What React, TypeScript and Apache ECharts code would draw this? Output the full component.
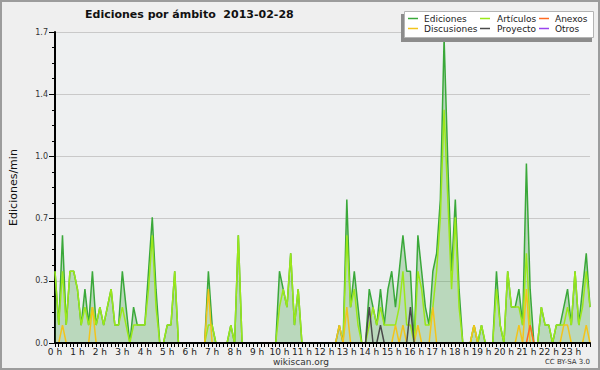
import React, { useEffect, useRef } from "react";
import * as echarts from "echarts";

// Hour tick labels (data every 10 minutes)
const HOURS = [
  "0 h", "1 h", "2 h", "3 h", "4 h", "5 h", "6 h", "7 h", "8 h", "9 h", "10 h", "11 h",
  "12 h", "13 h", "14 h", "15 h", "16 h", "17 h", "18 h", "19 h", "20 h", "21 h", "22 h", "23 h",
];
const MINUTES = ["00", "10", "20", "30", "40", "50"];
const Y_TICKS = 5;
const Y_MAX = 1.7333333;

// Ediciones/min per 10-minute slot
const EDICIONES = [
  0.4, 0.1, 0.6, 0.1, 0.4, 0.4, 0.3, 0.1, 0.3, 0.1, 0.4, 0.1,
  0.2, 0.1, 0.2, 0.3, 0.1, 0.1, 0.4, 0.2, 0, 0.2, 0.1, 0.1,
  0.1, 0.4, 0.7, 0.3, 0, 0, 0.1, 0.1, 0.4, 0, 0, 0,
  0, 0, 0, 0, 0, 0.4, 0.1, 0, 0, 0, 0, 0.1,
  0, 0.6, 0, 0, 0, 0, 0, 0, 0, 0, 0, 0,
  0.4, 0.3, 0.2, 0.5, 0.1, 0.3, 0, 0, 0, 0, 0, 0,
  0, 0, 0, 0, 0.1, 0, 0.8, 0.2, 0.4, 0.2, 0, 0,
  0.3, 0.2, 0.1, 0.3, 0.1, 0.3, 0.4, 0.2, 0.4, 0.6, 0.4, 0.4,
  0, 0.6, 0.4, 0.2, 0.1, 0.4, 0.5, 0.8, 1.7, 1.0, 0.4, 0.8,
  0.3, 0, 0, 0, 0.1, 0, 0.1, 0, 0, 0, 0.4, 0.1,
  0, 0.4, 0.2, 0.2, 0.3, 0.1, 1.0, 0.3, 0, 0, 0.2, 0.1,
  0.1, 0, 0.1, 0.1, 0.2, 0.3, 0.1, 0.4, 0.1, 0.3, 0.5, 0.2,
];
const ARTICULOS = [
  0.4, 0.1, 0.4, 0.1, 0.4, 0.4, 0.3, 0.1, 0.2, 0.1, 0.2, 0.1,
  0.2, 0.1, 0.2, 0.3, 0.1, 0.1, 0.2, 0.1, 0, 0.1, 0.1, 0.1,
  0.1, 0.3, 0.6, 0.2, 0, 0, 0.1, 0.1, 0.4, 0, 0, 0,
  0, 0, 0, 0, 0, 0.1, 0.1, 0, 0, 0, 0, 0.1,
  0, 0.6, 0, 0, 0, 0, 0, 0, 0, 0, 0, 0,
  0.2, 0.3, 0.2, 0.5, 0.1, 0.3, 0, 0, 0, 0, 0, 0,
  0, 0, 0, 0, 0, 0, 0.6, 0.2, 0.3, 0.1, 0, 0,
  0.1, 0.2, 0.1, 0.2, 0.1, 0.1, 0.1, 0.1, 0.2, 0.4, 0.1, 0.1,
  0, 0.4, 0.3, 0.1, 0.1, 0.2, 0.4, 0.7, 1.3, 0.8, 0.3, 0.7,
  0.2, 0, 0, 0, 0.1, 0, 0.1, 0, 0, 0, 0.3, 0.1,
  0, 0.4, 0.2, 0.2, 0.2, 0.1, 0.5, 0.1, 0, 0, 0.2, 0.1,
  0.1, 0, 0.1, 0.1, 0.1, 0.2, 0.1, 0.4, 0.1, 0.2, 0.4, 0.2,
];
const DISCUSIONES = [
  0, 0, 0.1, 0, 0, 0, 0, 0, 0, 0, 0.2, 0,
  0, 0, 0, 0, 0, 0, 0, 0, 0, 0, 0, 0,
  0, 0, 0, 0, 0, 0, 0, 0, 0, 0, 0, 0,
  0, 0, 0, 0, 0, 0.3, 0, 0, 0, 0, 0, 0,
  0, 0, 0, 0, 0, 0, 0, 0, 0, 0, 0, 0,
  0, 0, 0, 0, 0, 0, 0, 0, 0, 0, 0, 0,
  0, 0, 0, 0, 0.1, 0, 0.2, 0, 0, 0, 0, 0,
  0, 0, 0, 0, 0, 0, 0, 0.1, 0, 0.1, 0, 0,
  0, 0.1, 0, 0, 0, 0.2, 0, 0, 0, 0, 0, 0,
  0, 0, 0, 0, 0.1, 0, 0, 0, 0, 0, 0, 0,
  0, 0, 0, 0, 0.1, 0, 0.3, 0, 0, 0, 0, 0,
  0, 0, 0, 0, 0.1, 0.1, 0, 0, 0, 0, 0.1, 0,
];
const ANEXOS = [
  0, 0, 0, 0, 0, 0, 0, 0, 0, 0, 0, 0,
  0, 0, 0, 0, 0, 0, 0, 0, 0, 0, 0, 0,
  0, 0, 0, 0, 0, 0, 0, 0, 0, 0, 0, 0,
  0, 0, 0, 0, 0, 0, 0, 0, 0, 0, 0, 0,
  0, 0, 0, 0, 0, 0, 0, 0, 0, 0, 0, 0,
  0, 0, 0, 0, 0, 0, 0, 0, 0, 0, 0, 0,
  0, 0, 0, 0, 0, 0, 0, 0, 0, 0, 0, 0,
  0, 0, 0, 0, 0, 0, 0, 0, 0, 0, 0, 0,
  0, 0, 0, 0, 0, 0, 0, 0, 0, 0, 0, 0,
  0, 0, 0, 0, 0, 0, 0, 0, 0, 0, 0, 0,
  0, 0, 0, 0, 0, 0, 0, 0.1, 0, 0, 0, 0,
  0, 0, 0, 0, 0, 0, 0, 0, 0, 0, 0, 0,
];
const PROYECTO = [
  0, 0, 0, 0, 0, 0, 0, 0, 0, 0, 0, 0,
  0, 0, 0, 0, 0, 0, 0, 0, 0, 0, 0, 0,
  0, 0, 0, 0, 0, 0, 0, 0, 0, 0, 0, 0,
  0, 0, 0, 0, 0, 0, 0, 0, 0, 0, 0, 0,
  0, 0, 0, 0, 0, 0, 0, 0, 0, 0, 0, 0,
  0, 0, 0, 0, 0, 0, 0, 0, 0, 0, 0, 0,
  0, 0, 0, 0, 0, 0, 0, 0, 0, 0, 0, 0,
  0.2, 0, 0, 0.1, 0, 0, 0, 0, 0, 0, 0, 0.2,
  0, 0, 0, 0, 0, 0, 0, 0, 0, 0, 0, 0,
  0, 0, 0, 0, 0, 0, 0, 0, 0, 0, 0, 0,
  0, 0, 0, 0, 0, 0, 0, 0, 0, 0, 0, 0,
  0, 0, 0, 0, 0, 0, 0, 0, 0, 0, 0, 0,
];
const OTROS = [
  0, 0, 0, 0, 0, 0, 0, 0, 0, 0, 0, 0,
  0, 0, 0, 0, 0, 0, 0, 0, 0, 0, 0, 0,
  0, 0, 0, 0, 0, 0, 0, 0, 0, 0, 0, 0,
  0, 0, 0, 0, 0, 0, 0, 0, 0, 0, 0, 0,
  0, 0, 0, 0, 0, 0, 0, 0, 0, 0, 0, 0,
  0, 0, 0, 0, 0, 0, 0, 0, 0, 0, 0, 0,
  0, 0, 0, 0, 0, 0, 0, 0, 0, 0, 0, 0,
  0, 0, 0, 0, 0, 0, 0, 0, 0, 0, 0, 0,
  0, 0, 0, 0, 0, 0, 0, 0, 0, 0, 0, 0,
  0, 0, 0, 0, 0, 0, 0, 0, 0, 0, 0, 0,
  0, 0, 0, 0, 0, 0, 0, 0, 0, 0, 0, 0,
  0, 0, 0, 0, 0, 0, 0, 0, 0, 0, 0, 0,
];

const FONT = '"DejaVu Sans", sans-serif';
const COLORS = {
  ediciones: "#3aa83a",
  articulos: "#9be81a",
  discusiones: "#f2c41c",
  anexos: "#ff6a22",
  proyecto: "#4a4a4a",
  otros: "#9a44ee",
};

const LEGEND = [
  { name: "Ediciones", color: COLORS.ediciones, col: 0, row: 0 },
  { name: "Discusiones", color: COLORS.discusiones, col: 0, row: 1 },
  { name: "Artículos", color: COLORS.articulos, col: 1, row: 0 },
  { name: "Proyecto", color: COLORS.proyecto, col: 1, row: 1 },
  { name: "Anexos", color: COLORS.anexos, col: 2, row: 0 },
  { name: "Otros", color: COLORS.otros, col: 2, row: 1 },
];

export default function App() {
  const ref = useRef<HTMLDivElement>(null);
  useEffect(() => {
    if (!ref.current) return;
    const chart = echarts.init(ref.current, null, { renderer: "svg" });
    const categories: string[] = [];
    HOURS.forEach((h, i) => MINUTES.forEach((m) => categories.push(m === "00" ? h : `${i}:${m}`)));

    const lineSeries = (name: string, data: number[], color: string, extra: any = {}) => ({
      name,
      type: "line",
      data,
      symbol: "none",
      silent: true,
      lineStyle: { color, width: 1.5 },
      itemStyle: { color },
      ...extra,
    });

    const colX = [408, 480, 539];
    const textX = [424, 497, 555];
    const rowY = [18.5, 28.5];
    const legendGraphics: any[] = [
      { type: "rect", z: 100, shape: { x: 401, y: 14, width: 191, height: 28 }, style: { fill: "#8c8c8c" } },
      { type: "rect", z: 101, shape: { x: 404.5, y: 11.5, width: 189, height: 26 }, style: { fill: "#ffffff", stroke: "#b4b4b4", lineWidth: 1 } },
    ];
    LEGEND.forEach((l) => {
      legendGraphics.push({
        type: "line", z: 102,
        shape: { x1: colX[l.col], y1: rowY[l.row], x2: colX[l.col] + 10, y2: rowY[l.row] },
        style: { stroke: l.color, lineWidth: 1.5 },
      });
      legendGraphics.push({
        type: "text", z: 102, x: textX[l.col], y: rowY[l.row] + 0.5,
        style: { text: l.name, fill: "#222", fontSize: 9, fontFamily: FONT, verticalAlign: "middle", align: "left" },
      });
    });

    chart.setOption({
      animation: false,
      backgroundColor: "#efefef",
      grid: { left: 46, right: 10, top: 32, bottom: 27, show: true, backgroundColor: "#eef0f1", borderWidth: 0 },
      xAxis: {
        type: "category",
        data: categories,
        boundaryGap: false,
        z: 5,
        axisLine: { show: true, lineStyle: { color: "#000", width: 2 } },
        axisTick: { show: true, interval: 0, length: 4, lineStyle: { color: "#000", width: 1 } },
        axisLabel: { interval: 5, margin: 4, fontSize: 9, fontFamily: FONT, color: "#222", hideOverlap: false },
        splitLine: { show: false },
      },
      yAxis: {
        type: "value",
        min: 0,
        max: Y_MAX,
        interval: Y_MAX / Y_TICKS,
        name: "Ediciones/min",
        nameLocation: "middle",
        nameGap: 36,
        nameTextStyle: { fontSize: 11, fontFamily: FONT, color: "#111" },
        axisLine: { show: true, lineStyle: { color: "#000", width: 2 } },
        axisTick: { show: true, length: 6, lineStyle: { color: "#000" } },
        minorTick: { show: true, splitNumber: 4, length: 3, lineStyle: { color: "#000" } },
        axisLabel: { fontSize: 8, fontFamily: FONT, color: "#333", margin: 7, formatter: (v: number) => v.toFixed(1) },
        splitLine: { show: true, lineStyle: { color: "#c9c9c9", width: 1 } },
      },
      series: [
        lineSeries("Ediciones", EDICIONES, COLORS.ediciones, {
          areaStyle: { color: "rgba(60,160,60,0.42)", origin: "start" },
        }),
        lineSeries("Artículos", ARTICULOS, COLORS.articulos),
        lineSeries("Discusiones", DISCUSIONES, COLORS.discusiones),
        lineSeries("Anexos", ANEXOS, COLORS.anexos),
        lineSeries("Proyecto", PROYECTO, COLORS.proyecto),
        lineSeries("Otros", OTROS, COLORS.otros),
      ],
      graphic: [
        {
          type: "text", z: 100, x: 85, y: 14,
          style: { text: "Ediciones por ámbito  2013-02-28", fill: "#111", fontSize: 11, fontWeight: "bold", fontFamily: FONT, verticalAlign: "middle" },
        },
        {
          type: "text", z: 100, x: 301, y: 362,
          style: { text: "wikiscan.org", fill: "#333", fontSize: 9, fontFamily: FONT, align: "center", verticalAlign: "middle" },
        },
        {
          type: "text", z: 100, x: 590, y: 362,
          style: { text: "CC BY-SA 3.0", fill: "#333", fontSize: 7, fontFamily: FONT, align: "right", verticalAlign: "middle" },
        },
        ...legendGraphics,
        {
          type: "rect", z: 110, silent: true,
          shape: { x: 1, y: 1, width: 598, height: 368 },
          style: { fill: "rgba(0,0,0,0)", stroke: "#9c9c9c", lineWidth: 2 },
        },
      ],
    });
    return () => chart.dispose();
  }, []);
  return <div ref={ref} style={{ position: "fixed", left: 0, top: 0, width: 600, height: 370 }} />;
}
